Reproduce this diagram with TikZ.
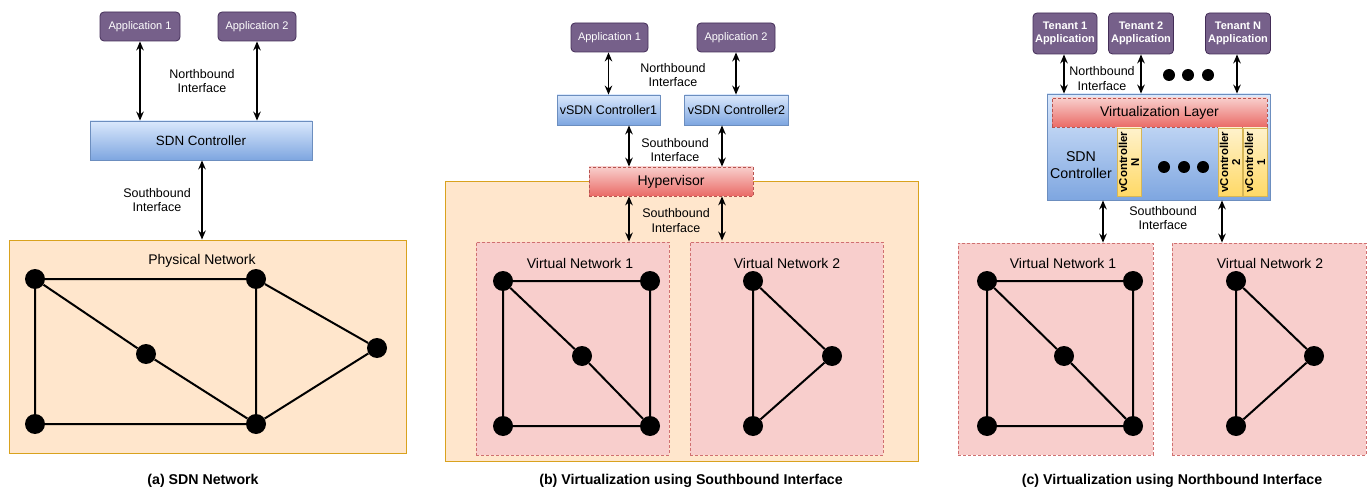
\documentclass[tikz,border=0pt]{standalone}
\usepackage{fontspec}
\setmainfont{Liberation Sans}
\usetikzlibrary{arrows.meta}

\definecolor{appfill}{HTML}{76608A}
\definecolor{appline}{HTML}{432D57}
\definecolor{bluetop}{HTML}{DAE8FC}
\definecolor{bluebot}{HTML}{7EA6E0}
\definecolor{blueline}{HTML}{6C8EBF}
\definecolor{redtop}{HTML}{F8CECC}
\definecolor{redbot}{HTML}{EA6B66}
\definecolor{redline}{HTML}{B85450}
\definecolor{orfill}{HTML}{FFE6CC}
\definecolor{orline}{HTML}{D9A21E}
\definecolor{vnfill}{HTML}{F8CECC}
\definecolor{vnline}{HTML}{D07070}
\definecolor{yeltop}{HTML}{FFF2CC}
\definecolor{yelbot}{HTML}{FFD966}
\definecolor{yelline}{HTML}{D6B656}

\begin{document}
\begin{tikzpicture}[
  x=1pt, y=-1pt,
  app/.style={draw=appline, fill=appfill, rounded corners=4pt, text=white,
    inner sep=0pt, line width=0.8pt, font=\fontsize{11}{12.5}\selectfont},
  tenant/.style={app, align=center, font=\fontsize{11}{12.5}\selectfont\bfseries},
  ctrlbox/.style={draw=blueline, top color=bluetop, bottom color=bluebot,
    inner sep=0pt, line width=0.8pt},
  hypbox/.style={draw=redline, top color=redtop, bottom color=redbot,
    dash pattern=on 3pt off 2pt, inner sep=0pt, line width=0.7pt,
    font=\fontsize{14}{16}\selectfont},
  netarea/.style={draw=orline, fill=orfill, inner sep=0pt, line width=0.9pt},
  vnbox/.style={draw=vnline, fill=vnfill, dash pattern=on 3pt off 2pt,
    inner sep=0pt, line width=0.8pt},
  vcbox/.style={draw=yelline, top color=yeltop, bottom color=yelbot,
    inner sep=0pt, line width=0.8pt},
  lbl/.style={align=center, inner sep=0pt, font=\fontsize{12.5}{14.5}\selectfont},
  netlbl/.style={inner sep=0pt, font=\fontsize{14}{16}\selectfont},
  caption/.style={inner sep=0pt, font=\fontsize{14.2}{16}\selectfont\bfseries},
  dot/.style={circle, fill=black, inner sep=0pt, minimum size=20pt},
  bigdot/.style={circle, fill=black, inner sep=0pt, minimum size=12pt},
  edge/.style={line width=2pt},
  bi/.style={line width=1.6pt, {Stealth[length=9pt,width=7.5pt]}-{Stealth[length=9pt,width=7.5pt]}},
]
\useasboundingbox (0,0) rectangle (1371,489);

% ---------------- (a) SDN Network ----------------
\node[netarea, minimum width=397pt, minimum height=213pt] (phys) at (207.5,346.5) {};
\node[app, minimum width=80pt, minimum height=29pt] (a1) at (140,26.5) {Application 1};
\node[app, minimum width=78pt, minimum height=29pt] (a2) at (257,26.5) {Application 2};
\node[ctrlbox, minimum width=222pt, minimum height=39pt,
      font=\fontsize{13.4}{15}\selectfont] (ctrl) at (201,140.5) {SDN Controller};
\node[lbl] (anb) at (202,81) {Northbound\\Interface};
\node[lbl] (asb) at (157,200) {Southbound\\Interface};
\draw[bi] (a1.south) -- (a1.south |- ctrl.north);
\draw[bi] (a2.south) -- (a2.south |- ctrl.north);
\draw[bi] ([xshift=1pt]ctrl.south) -- ([xshift=1pt]ctrl.south |- phys.north);
\node[netlbl] (physlbl) at (202,261) {Physical Network};
\foreach \n/\px/\py in {p1/35/279, p2/256/279, p3/146/354, p4/377/348, p5/35/424, p6/256/424}
  \node[dot] (\n) at (\px,\py) {};
\draw[edge] (p1) -- (p2) (p1) -- (p5) (p1) -- (p3) (p3) -- (p6)
            (p5) -- (p6) (p2) -- (p6) (p2) -- (p4) (p4) -- (p6);
\node[caption] (capa) at (203,481) {(a) SDN Network};

% ---------------- (b) Southbound virtualization ----------------
\node[netarea, minimum width=473pt, minimum height=280pt] (barea) at (681.5,321) {};
\node[app, minimum width=77pt, minimum height=29pt] (b1) at (609.5,37.5) {Application 1};
\node[app, minimum width=78pt, minimum height=29pt] (b2) at (736,37.5) {Application 2};
\node[ctrlbox, minimum width=103pt, minimum height=30pt,
      font=\fontsize{12.5}{14}\selectfont] (vs1) at (608.5,110) {vSDN Controller1};
\node[ctrlbox, minimum width=104pt, minimum height=30pt,
      font=\fontsize{12.5}{14}\selectfont] (vs2) at (736.5,110) {vSDN Controller2};
\node[hypbox, minimum width=164pt, minimum height=29pt] (hyp) at (671,181.5) {Hypervisor};
\node[vnbox, minimum width=193pt, minimum height=213pt] (bvn1) at (572.5,348.5) {};
\node[vnbox, minimum width=193pt, minimum height=213pt] (bvn2) at (786.5,348.5) {};
\coordinate (bsl) at (629,0);
\coordinate (bsr) at (722,0);
\draw[bi] ([xshift=-1pt]b1.south) -- ([xshift=-1pt]b1.south |- vs1.north);
\draw[bi] (b2.south) -- (b2.south |- vs2.north);
\draw[bi] (vs1.south -| bsl) -- (hyp.north -| bsl);
\draw[bi] (vs2.south -| bsr) -- (hyp.north -| bsr);
\draw[bi] (hyp.south -| bsl) -- (bvn1.north -| bsl);
\draw[bi] (hyp.south -| bsr) -- ([yshift=1pt]bvn2.north -| bsr);
\node[lbl] (bnb) at (673,75) {Northbound\\Interface};
\node[lbl] (bsb1) at (675,150) {Southbound\\Interface};
\node[lbl] (bsb2) at (676,220.5) {Southbound\\Interface};
\node[netlbl] (bvn1lbl) at (580,263) {Virtual Network 1};
\node[netlbl] (bvn2lbl) at (787,263) {Virtual Network 2};
\foreach \n/\px/\py in {q1/503/281, q2/650/281, q3/582/356, q4/503/426, q5/650/426,
                        r1/753/281, r2/832/356, r3/753/426}
  \node[dot] (\n) at (\px,\py) {};
\draw[edge] (q1) -- (q2) (q1) -- (q4) (q1) -- (q3) (q3) -- (q5) (q4) -- (q5) (q2) -- (q5);
\draw[edge] (r1) -- (r3) (r1) -- (r2) (r2) -- (r3);
\node[caption] (capb) at (691,481) {(b) Virtualization using Southbound Interface};

% ---------------- (c) Northbound virtualization ----------------
\node[tenant, minimum width=64pt, minimum height=41pt] (t1) at (1065,33.5) {Tenant 1\\Application};
\node[tenant, minimum width=65pt, minimum height=41pt] (t2) at (1141,33.5) {Tenant 2\\Application};
\node[tenant, minimum width=65pt, minimum height=41pt] (tn) at (1238,33.5) {Tenant N\\Application};
\node[ctrlbox, minimum width=223pt, minimum height=106pt] (big) at (1158.5,147) {};
\node[hypbox, minimum width=215pt, minimum height=29pt] (vl) at (1159.5,112.5) {Virtualization Layer};
\node[align=center, inner sep=0pt, font=\fontsize{14.2}{16.5}\selectfont] (sdnc) at (1081,165) {SDN\\Controller};
\node[vcbox, minimum width=24pt, minimum height=68pt] (vcn) at (1129,162) {};
\node[vcbox, minimum width=24pt, minimum height=68pt] (vc2) at (1230,162) {};
\node[vcbox, minimum width=24pt, minimum height=68pt] (vc1) at (1255,162) {};
\foreach \v/\t in {vcn/N, vc2/2, vc1/1}
  \node[rotate=90, align=center, inner sep=0pt,
        font=\fontsize{11.4}{11.8}\selectfont\bfseries] at (\v) {vController\\\t};
\foreach \n/\px in {cd1/1164, cd2/1184, cd3/1203}
  \node[bigdot] (\n) at (\px,167) {};
\foreach \n/\px in {td1/1169, td2/1188, td3/1208}
  \node[bigdot] (\n) at (\px,75) {};
\draw[bi] ([xshift=-1pt]t1.south) -- ([xshift=-1pt]t1.south |- big.north);
\draw[bi] (t2.south) -- (t2.south |- big.north);
\draw[bi] ([xshift=-1pt]tn.south) -- ([xshift=-1pt]tn.south |- big.north);
\node[lbl] (cnb) at (1102,78.5) {Northbound\\Interface};
\node[vnbox, minimum width=195pt, minimum height=212pt] (cvn1) at (1055.5,349) {};
\node[vnbox, minimum width=194pt, minimum height=212pt] (cvn2) at (1269,349) {};
\coordinate (csl) at (1103,0);
\coordinate (csr) at (1222,0);
\draw[bi] (big.south -| csl) -- (cvn1.north -| csl);
\draw[bi] (big.south -| csr) -- (cvn2.north -| csr);
\node[lbl] (csb) at (1163,218) {Southbound\\Interface};
\node[netlbl] (cvn1lbl) at (1063,263) {Virtual Network 1};
\node[netlbl] (cvn2lbl) at (1270,263) {Virtual Network 2};
\foreach \n/\px/\py in {s1/987/281, s2/1133/281, s3/1064/356, s4/987/426, s5/1133/426,
                        u1/1236/281, u2/1314/356, u3/1236/426}
  \node[dot] (\n) at (\px,\py) {};
\draw[edge] (s1) -- (s2) (s1) -- (s4) (s1) -- (s3) (s3) -- (s5) (s4) -- (s5) (s2) -- (s5);
\draw[edge] (u1) -- (u3) (u1) -- (u2) (u2) -- (u3);
\node[caption] (capc) at (1172,481) {(c) Virtualization using Northbound Interface};
\end{tikzpicture}
\end{document}
